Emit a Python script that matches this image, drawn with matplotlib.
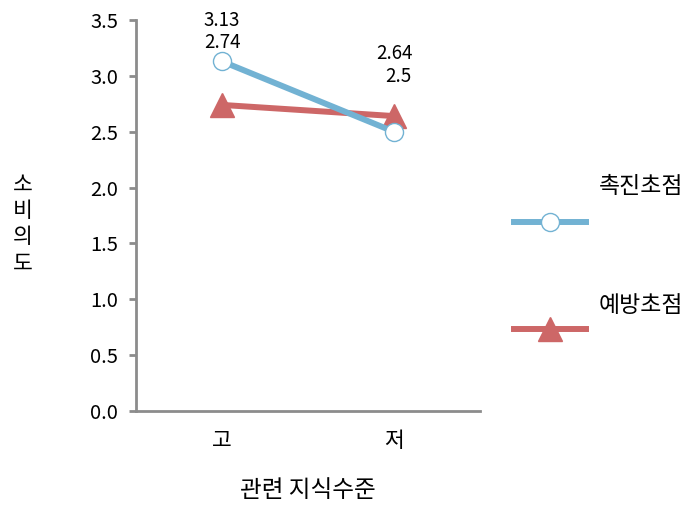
import matplotlib
matplotlib.use('Agg')
import matplotlib.pyplot as plt
from matplotlib.lines import Line2D

plt.rcParams['font.family'] = ['Noto Sans CJK KR', 'DejaVu Sans']

# 데이터
categories = ['고', '저']
promotion = [3.13, 2.5]    # 촉진초점
prevention = [2.74, 2.64]  # 예방초점
series_names = ['촉진초점', '예방초점']
yticks = [0.0, 0.5, 1.0, 1.5, 2.0, 2.5, 3.0, 3.5]

blue = '#72B2D3'
red = '#CD6767'
gray = '#8C8C8C'

fig = plt.figure(figsize=(6.88, 5.12), dpi=100)
ax = fig.add_axes([0.1977, 0.1973, 0.5, 0.7636])

x = list(range(len(categories)))
l1, = ax.plot(x, promotion, color=blue, lw=4.3, marker='o', ms=13,
              mfc='white', mec=blue, mew=1.0, zorder=4)
l2, = ax.plot(x, prevention, color=red, lw=4.3, marker='^', ms=17,
              mfc=red, mec=red, zorder=2)

# 값 레이블 (위쪽에 배치)
offs_blue = [29.5, 40]
offs_red = [45, 45]
dx_blue = [0, 3]
for i in x:
    ax.annotate(f'{promotion[i]:g}', (i, promotion[i]), xytext=(dx_blue[i], offs_blue[i]),
                textcoords='offset points', ha='center', va='center', fontsize=13.5)
    ax.annotate(f'{prevention[i]:g}', (i, prevention[i]), xytext=(0, offs_red[i]),
                textcoords='offset points', ha='center', va='center', fontsize=13.5)

ax.set_xlim(-0.5, 1.5)
ax.set_ylim(0, 3.5)
ax.set_yticks(yticks)
ax.set_yticklabels([f'{v:.1f}' for v in yticks])
ax.set_xticks(x)
ax.set_xticklabels(categories)
ax.tick_params(axis='y', length=5, width=2, color=gray, labelsize=14.5, pad=8)
ax.tick_params(axis='x', length=0, labelsize=15.5, pad=14)

for s in ['top', 'right']:
    ax.spines[s].set_visible(False)
for s in ['left', 'bottom']:
    ax.spines[s].set_color(gray)
    ax.spines[s].set_linewidth(2)

ax.set_xlabel('관련 지식수준', fontsize=17, labelpad=19)
fig.text(0.033, 0.5625, '소\n비\n의\n도', ha='center', va='center',
         fontsize=15.5, linespacing=1.25)

# 범례 (수동 배치)
leg_y = [0.566, 0.357]
txt_y = [0.636, 0.404]
for line, name, ly, ty in zip([l1, l2], series_names, leg_y, txt_y):
    h = Line2D([0.747, 0.852], [ly, ly], transform=fig.transFigure,
               color=line.get_color(), lw=line.get_linewidth())
    fig.add_artist(h)
    m = Line2D([0.8], [ly], transform=fig.transFigure, linestyle='none',
               marker=line.get_marker(), ms=line.get_markersize(),
               mfc=line.get_markerfacecolor(), mec=line.get_markeredgecolor(),
               mew=line.get_markeredgewidth())
    fig.add_artist(m)
    fig.text(0.932, ty, name, ha='center', va='center', fontsize=16.5)

fig.savefig('out.png', dpi=100)
